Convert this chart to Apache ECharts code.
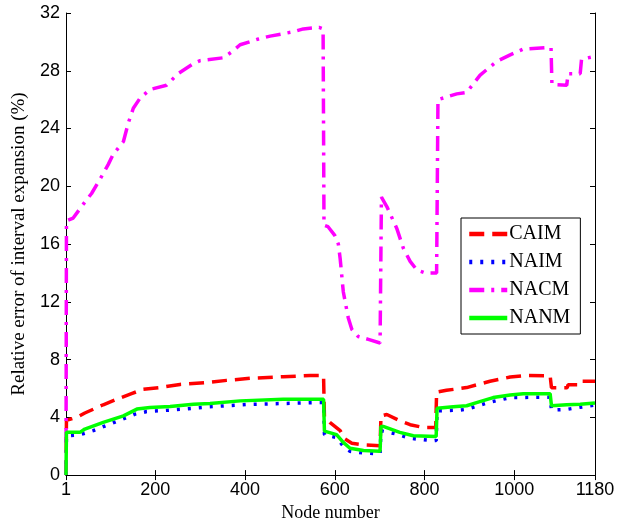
<!DOCTYPE html>
<html>
<head>
<meta charset="utf-8">
<script src="https://cdn.jsdelivr.net/npm/echarts@6/dist/echarts.min.js"></script>
<style>
  html, body { margin: 0; padding: 0; background: #fff; }
</style>
</head>
<body>
<div id="chart" style="width: 631px; height: 527px;"></div>
<script>
// tick labels
const xTicks = [1, 200, 400, 600, 800, 1000, 1180];
const names = ['CAIM', 'NAIM', 'NACM', 'NANM'];

// [node, relative error %]
const caim = [[1,0],[2,3.8],[25,4.0],[43,4.3],[84,4.87],[114,5.25],[147,5.64],[173,5.94],[210,6.06],[255,6.28],[315,6.4],[359,6.56],[411,6.7],[485,6.81],[545,6.9],[575,6.9],[577,4.0],[589,3.65],[612,3.08],[623,2.5],[638,2.2],[664,2.09],[701,2.04],[703,4.1],[716,4.2],[745,3.76],[768,3.49],[797,3.3],[825,3.3],[827,5.75],[849,5.87],[894,6.06],[946,6.5],[991,6.79],[1028,6.9],[1080,6.88],[1083,6.05],[1118,6.05],[1120,6.25],[1147,6.25],[1150,6.5],[1180,6.5]];

const naim = [[1,0],[2,2.73],[30,2.78],[62,3.08],[114,3.72],[155,4.22],[181,4.4],[233,4.5],[285,4.63],[320,4.73],[411,4.9],[560,5.02],[575,5.02],[577,2.8],[604,2.6],[619,2.0],[634,1.65],[664,1.53],[701,1.47],[703,3.07],[738,2.84],[768,2.55],[816,2.39],[826,2.39],[828,4.45],[879,4.5],[894,4.56],[942,5.02],[991,5.37],[1080,5.4],[1083,4.5],[1117,4.55],[1120,4.68],[1147,4.7],[1150,4.8],[1180,4.85]];

const nacm = [[1,0],[2,17.6],[17,17.8],[38,18.7],[58,19.5],[77,20.5],[95,21.5],[106,22.2],[129,23.1],[140,24.4],[151,25.4],[166,26.1],[188,26.7],[225,27.0],[251,27.8],[285,28.5],[300,28.7],[352,28.9],[370,29.3],[389,29.8],[430,30.2],[456,30.4],[508,30.7],[530,30.9],[565,31.0],[574,30.9],[576,17.3],[585,17.2],[600,16.6],[608,16.0],[612,15.0],[619,12.7],[630,10.9],[638,10.1],[652,9.6],[675,9.4],[701,9.15],[704,19.25],[716,18.6],[738,17.1],[753,15.7],[768,14.8],[783,14.2],[801,14.0],[827,14.0],[830,26.0],[872,26.4],[894,26.5],[924,27.7],[961,28.65],[991,29.1],[1020,29.5],[1068,29.6],[1082,29.6],[1084,27.05],[1117,27.0],[1120,27.8],[1147,27.8],[1150,28.8],[1180,29.0]];

const nanm = [[1,0],[2,2.96],[32,2.96],[43,3.19],[84,3.65],[129,4.1],[159,4.57],[188,4.68],[233,4.75],[285,4.91],[322,4.96],[389,5.14],[485,5.25],[575,5.25],[577,3.05],[604,2.8],[619,2.27],[634,1.86],[664,1.7],[701,1.65],[703,3.37],[708,3.37],[745,2.96],[775,2.73],[826,2.68],[828,4.63],[864,4.73],[894,4.8],[916,5.02],[953,5.37],[991,5.55],[1020,5.64],[1080,5.64],[1083,4.8],[1117,4.87],[1147,4.9],[1150,5.0],[1180,5.0]];

const chart = echarts.init(document.getElementById('chart'));

const tickFont = { fontFamily: 'Liberation Sans', fontSize: 18, color: '#000' };
const axisLine = { lineStyle: { color: '#000', width: 1 } };

function line(name, data, color, type, width) {
  return {
    name: name,
    type: 'line',
    data: data,
    symbol: 'none',
    animation: false,
    lineStyle: { color: color, type: type, width: width, cap: 'butt' },
    itemStyle: { color: color }
  };
}

let option = {
  animation: false,
  grid: { left: 66, right: 36, top: 13, bottom: 49 },
  legend: {
    orient: 'vertical',
    left: 461,
    top: 218,
    data: names,
    itemWidth: 38,
    itemHeight: 18,
    itemGap: 8,
    padding: [6, 10, 6, 6],
    borderColor: '#000',
    borderWidth: 1,
    backgroundColor: '#fff',
    itemStyle: { opacity: 0 },
    lineStyle: { width: 4.5 },
    textStyle: { fontFamily: 'Liberation Serif', fontSize: 20, color: '#000', padding: [0, 0, 0, -3] }
  },
  xAxis: [
    {
      type: 'value',
      min: 1,
      max: 1180,
      name: 'Node number',
      nameLocation: 'middle',
      nameGap: 28,
      nameTextStyle: { fontFamily: 'Liberation Serif', fontSize: 18, color: '#000' },
      axisLine: axisLine,
      axisTick: { inside: true, length: 5, customValues: xTicks, lineStyle: { color: '#000' } },
      axisLabel: Object.assign({ customValues: xTicks, margin: 6, formatter: v => String(v) }, tickFont),
      splitLine: { show: false }
    },
    {
      type: 'value',
      position: 'top',
      min: 1,
      max: 1180,
      axisLine: axisLine,
      axisTick: { inside: true, length: 5, customValues: xTicks, lineStyle: { color: '#000' } },
      axisLabel: { show: false },
      splitLine: { show: false }
    }
  ],
  yAxis: [
    {
      type: 'value',
      min: 0,
      max: 32,
      interval: 4,
      name: 'Relative error of interval expansion (%)',
      nameLocation: 'middle',
      nameGap: 37,
      nameTextStyle: { fontFamily: 'Liberation Serif', fontSize: 19, color: '#000' },
      axisLine: Object.assign({ show: true }, axisLine),
      axisTick: { show: true, inside: true, length: 5, lineStyle: { color: '#000' } },
      axisLabel: Object.assign({ margin: 6 }, tickFont),
      splitLine: { show: false }
    },
    {
      type: 'value',
      position: 'right',
      min: 0,
      max: 32,
      interval: 4,
      axisLine: Object.assign({ show: true }, axisLine),
      axisTick: { show: true, inside: true, length: 5, lineStyle: { color: '#000' } },
      axisLabel: { show: false },
      splitLine: { show: false }
    }
  ],
  series: [
    line('CAIM', caim, '#ff0000', [15, 8], 3.5),
    line('NAIM', naim, '#0000ff', [3, 8], 3.5),
    line('NACM', nacm, '#ff00ff', [15, 7, 3, 7], 3.5),
    line('NANM', nanm, '#00ff00', 'solid', 3.5)
  ]
};

chart.setOption(option);
</script>
</body>
</html>
